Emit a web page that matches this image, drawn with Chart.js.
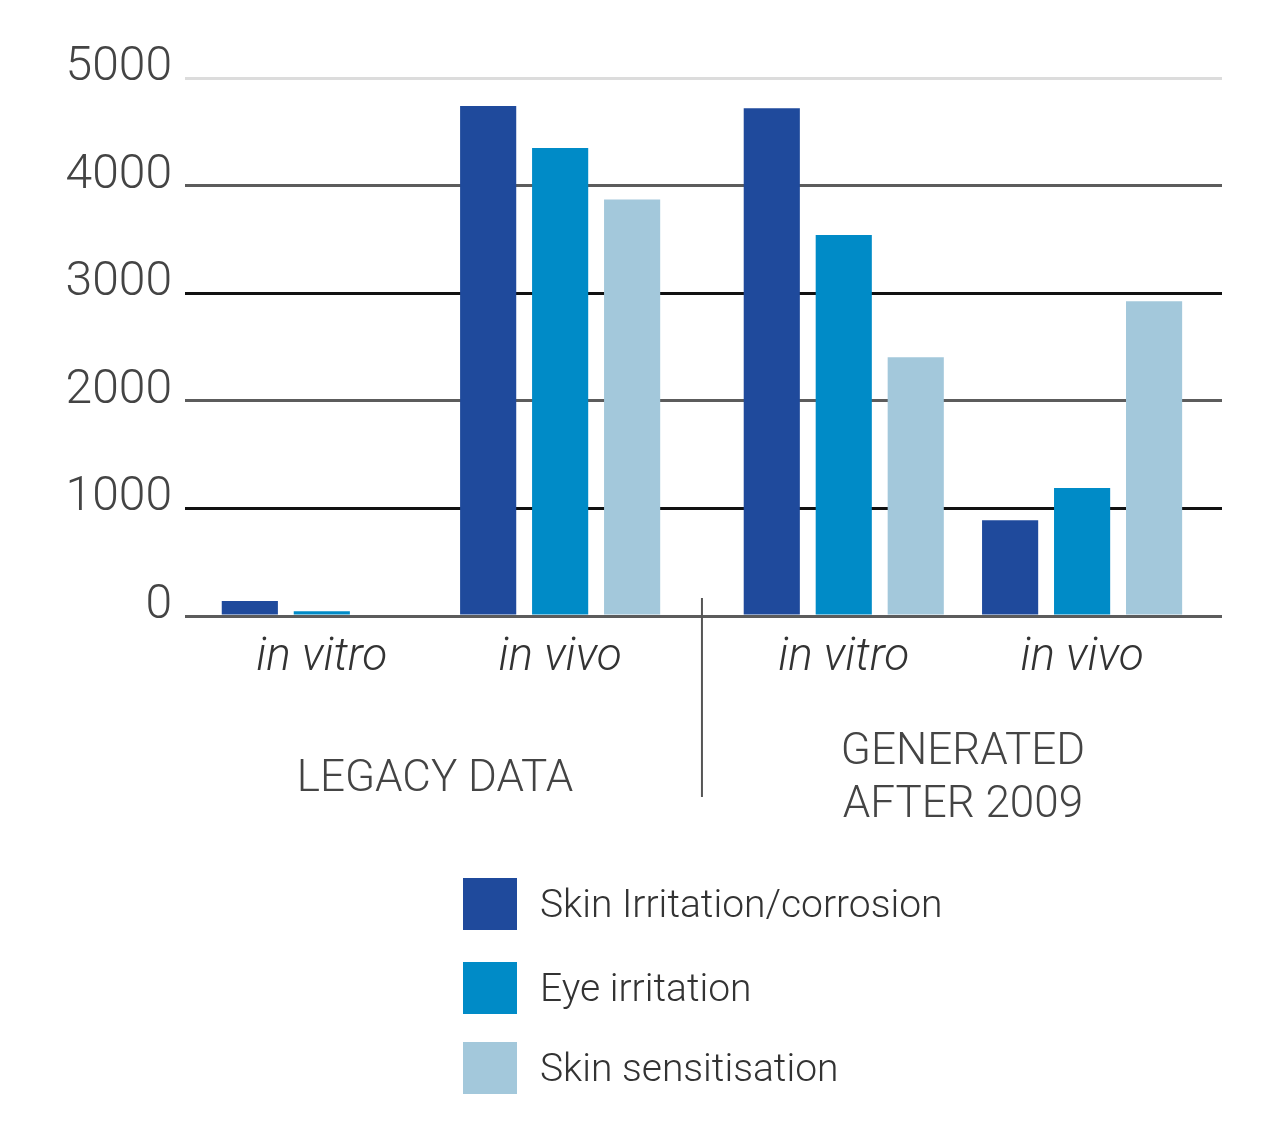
<!DOCTYPE html>
<html>
<head>
<meta charset="utf-8">
<script src="https://cdn.jsdelivr.net/npm/chart.js@4"></script>
<style>
  html, body { margin: 0; padding: 0; background: #fff; }
  canvas { display: block; }
</style>
</head>
<body>
<canvas id="chart" width="1288" height="1126"></canvas>
<script>
// Categories (x axis) and the two super-groups under them
const categories = ["in vitro", "in vivo", "in vitro", "in vivo"];
const groupNames = [["LEGACY DATA"], ["GENERATED", "AFTER 2009"]];

// Series values, one per category
const seriesNames = ["Skin Irritation/corrosion", "Eye irritation", "Skin sensitisation"];
const skinIrritation = [140, 4740, 4720, 890];
const eyeIrritation = [45, 4350, 3540, 1190];
const skinSensitisation = [0, 3870, 2405, 2925];

// Y axis ticks
const yTicks = [0, 1000, 2000, 3000, 4000, 5000];

// Layout only: where each category sits on the x axis (gap between the two groups)
const slotX = [0, 1, 2.19, 3.19];

const barColors = ["#1f4a9c", "#008bc7", "#a3c8db"];
const fontFamily = "Roboto, 'Open Sans', sans-serif";

const seriesValues = [skinIrritation, eyeIrritation, skinSensitisation];

const datasets = seriesNames.map((name, i) => ({
  label: name,
  data: seriesValues[i].map((v, j) => ({ x: slotX[j], y: v })),
  backgroundColor: barColors[i],
  borderWidth: 0,
  categoryPercentage: 0.906,
  barPercentage: 0.78,
}));

// Gridline colours alternate like the original print
const gridColor = (ctx) => {
  const v = ctx.tick && ctx.tick.value;
  if (v === 5000) return "#dcdcdc";
  if (v === 1000 || v === 3000) return "#111111";
  return "#5c5c5c";
};

// Group captions, the separator line and the legend
const extrasPlugin = {
  id: "extras",
  afterDraw(chart) {
    const ctx = chart.ctx;
    const x = chart.scales.x;
    const area = chart.chartArea;
    const px = slotX.map((v) => x.getPixelForValue(v));

    ctx.save();
    // separator between legacy and generated
    const sepX = (px[1] + px[2]) / 2;
    ctx.strokeStyle = "#555";
    ctx.lineWidth = 2;
    ctx.beginPath();
    ctx.moveTo(sepX, area.bottom - 18);
    ctx.lineTo(sepX, 797);
    ctx.stroke();

    // group captions
    ctx.fillStyle = "#444";
    ctx.font = "300 44px " + fontFamily;
    ctx.textAlign = "center";
    ctx.textBaseline = "middle";
    const centers = [(px[0] + px[1]) / 2 - 6, (px[2] + px[3]) / 2];
    ctx.fillText(groupNames[0][0], centers[0], 780);
    ctx.fillText(groupNames[1][0], centers[1], 753);
    ctx.fillText(groupNames[1][1], centers[1], 806);

    // legend
    const rows = [878, 962, 1042];
    ctx.textAlign = "left";
    ctx.font = "300 39px " + fontFamily;
    chart.data.datasets.forEach((ds, i) => {
      ctx.fillStyle = ds.backgroundColor;
      ctx.fillRect(463, rows[i], 54, 52);
      ctx.fillStyle = "#333";
      ctx.fillText(ds.label, 540, rows[i] + 29);
    });
    ctx.restore();
  },
};

new Chart(document.getElementById("chart"), {
  type: "bar",
  data: { datasets: datasets },
  plugins: [extrasPlugin],
  options: {
    responsive: false,
    animation: false,
    layout: { padding: { top: 78, right: 66, bottom: 430, left: 0 } },
    plugins: {
      legend: { display: false },
      tooltip: { enabled: false },
    },
    scales: {
      x: {
        type: "linear",
        offset: false,
        min: -0.574,
        max: 3.777,
        grid: { display: false, drawTicks: false },
        border: { display: false },
        afterBuildTicks: (axis) => {
          axis.ticks = slotX.map((v) => ({ value: v }));
        },
        afterFit: (axis) => { axis.height = 80; },
        ticks: {
          autoSkip: false,
          maxRotation: 0,
          padding: 15,
          color: "#333",
          font: { family: fontFamily, size: 46, style: "italic", weight: "300" },
          callback: (value, index) => categories[index],
        },
      },
      y: {
        min: 0,
        max: 5000,
        afterBuildTicks: (axis) => {
          axis.ticks = yTicks.map((v) => ({ value: v }));
        },
        afterFit: (axis) => { axis.width = 185; },
        grid: { color: gridColor, lineWidth: 3, drawTicks: false },
        border: { display: false },
        ticks: {
          padding: 13,
          color: "#444",
          font: { family: fontFamily, size: 48, weight: "300", lineHeight: 0.42 },
          // second empty line lifts the number a little above its gridline
          callback: (value) => [String(value), ""],
        },
      },
    },
  },
});
</script>
</body>
</html>
